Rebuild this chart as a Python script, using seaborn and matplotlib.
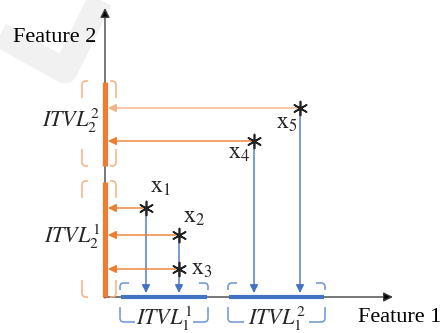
import matplotlib
matplotlib.use("Agg")
import matplotlib.pyplot as plt
import seaborn as sns
import pandas as pd
import numpy as np

sns.set_style("white")
plt.rcParams['font.family'] = ['Liberation Serif', 'DejaVu Serif']
plt.rcParams['mathtext.fontset'] = 'stix'

# Data (feature space, origin at axes intersection)
point_names = ["x1", "x2", "x3", "x4", "x5"]
feature1 = [41, 74, 74, 149, 195]
feature2 = [89, 62, 28, 156, 189]
f1_intervals = [(16, 102), (124, 219)]
f2_intervals = [(0, 115), (131, 215)]
f1_labels = [r"$ITVL_1^1$", r"$ITVL_1^2$"]
f2_labels = [r"$ITVL_2^1$", r"$ITVL_2^2$"]

ORANGE = "#ED7D31"
ORANGE_L = "#F4B183"
BLUE = "#4472C4"
BLUE_L = "#6F93D3"
AX = "#404040"

fig = plt.figure(figsize=(4.43, 3.33), dpi=100)
ax = fig.add_axes([0, 0, 1, 1])
ax.set_xlim(-105, 338)
ax.set_ylim(-36, 297)
ax.axis("off")

# watermark
ax.plot([-105, -40, -5], [262, 226, 297], color="#f1f1f1", lw=18, solid_capstyle="butt", zorder=0)

# axes lines with arrows
ax.annotate("", xy=(0, 289), xytext=(0, -1),
            arrowprops=dict(arrowstyle="-|>", color=AX, lw=1, mutation_scale=14, shrinkA=0, shrinkB=0,
                            fc="black"), zorder=2)
ax.annotate("", xy=(288, 0), xytext=(-1, 0),
            arrowprops=dict(arrowstyle="-|>", color=AX, lw=1, mutation_scale=14, shrinkA=0, shrinkB=0,
                            fc="black"), zorder=2)

# interval bars
for lo, hi in f2_intervals:
    ax.plot([0, 0], [lo, hi], color=ORANGE, lw=3.8, solid_capstyle="butt", zorder=3)
for lo, hi in f1_intervals:
    ax.plot([lo, hi], [0, 0], color=BLUE, lw=3.0, solid_capstyle="butt", zorder=3)


def corner(x0, y0, dx, dy, color, r=3.5):
    """Rounded L: leg from (x0, y0+dy) to corner (x0, y0), hook to (x0+dx, y0)."""
    sx, sy = np.sign(dx), np.sign(dy)
    cx, cy = x0 + sx * r, y0 + sy * r
    t = np.linspace(0, np.pi / 2, 10)
    xs = np.concatenate([[x0], cx - sx * r * np.cos(t), [x0 + dx]])
    ys = np.concatenate([[y0 + dy], cy - sy * r * np.sin(t), [y0]])
    ax.plot(xs, ys, color=color, lw=1.1, zorder=3, solid_capstyle="butt")


# vertical (feature 2) brackets
for (lo, hi), lab in zip(f2_intervals, f2_labels):
    for xb, dx in ((-23, 6), (11, -6)):
        corner(xb, hi + 1, dx, -17, ORANGE_L)
        corner(xb, lo, dx, 17, ORANGE_L)
    ax.text(-5, (lo + hi) / 2 + 3, lab, fontsize=16, ha="right", va="center", zorder=4,
            bbox=dict(fc="white", ec="none", pad=0))

# horizontal (feature 1) brackets
for (lo, hi), lab in zip(f1_intervals, f1_labels):
    corner(lo - 1, 14, 9, -7, BLUE_L)
    corner(hi + 1, 14, -9, -7, BLUE_L)
    corner(lo - 1, -25, 16, 15, BLUE_L)
    corner(hi + 1, -25, -16, 15, BLUE_L)
    ax.text((lo + hi) / 2, -22, lab, fontsize=16, ha="center", va="center", zorder=4,
            bbox=dict(fc="white", ec="none", pad=0.5))

# projection arrows
df = pd.DataFrame({"name": point_names, "f1": feature1, "f2": feature2})
for i, r in df.iterrows():
    oc = ORANGE_L if r["name"] == "x5" else ORANGE
    ax.annotate("", xy=(3, r.f2), xytext=(r.f1, r.f2),
                arrowprops=dict(arrowstyle="-|>", color=oc, lw=1.0, mutation_scale=12,
                                shrinkA=0, shrinkB=0), zorder=2)
    if r["name"] != "x3":
        ax.annotate("", xy=(r.f1, 4), xytext=(r.f1, r.f2),
                    arrowprops=dict(arrowstyle="-|>", color=BLUE, lw=1.0, mutation_scale=12,
                                    shrinkA=0, shrinkB=0), zorder=2)

sns.scatterplot(data=df, x="f1", y="f2", marker=(6, 2, 0), s=100, color="#222222",
                linewidth=1.2, ax=ax, zorder=5, legend=False)

label_pos = {"x1": (45, 109), "x2": (78, 79), "x3": (86, 28), "x4": (123, 143), "x5": (171, 173)}
for n, (lx, ly) in label_pos.items():
    ax.text(lx, ly, r"$\mathrm{x}_{%s}$" % n[1], fontsize=17, ha="left", va="center", zorder=4)

ax.set_xlim(-105, 338)
ax.set_ylim(-36, 297)
ax.text(-92, 260, "Feature 2", fontsize=16, ha="left", va="center", color="black")
ax.text(253, -21, "Feature 1", fontsize=16, ha="left", va="center", color="black")

fig.savefig("out.png", dpi=100)
